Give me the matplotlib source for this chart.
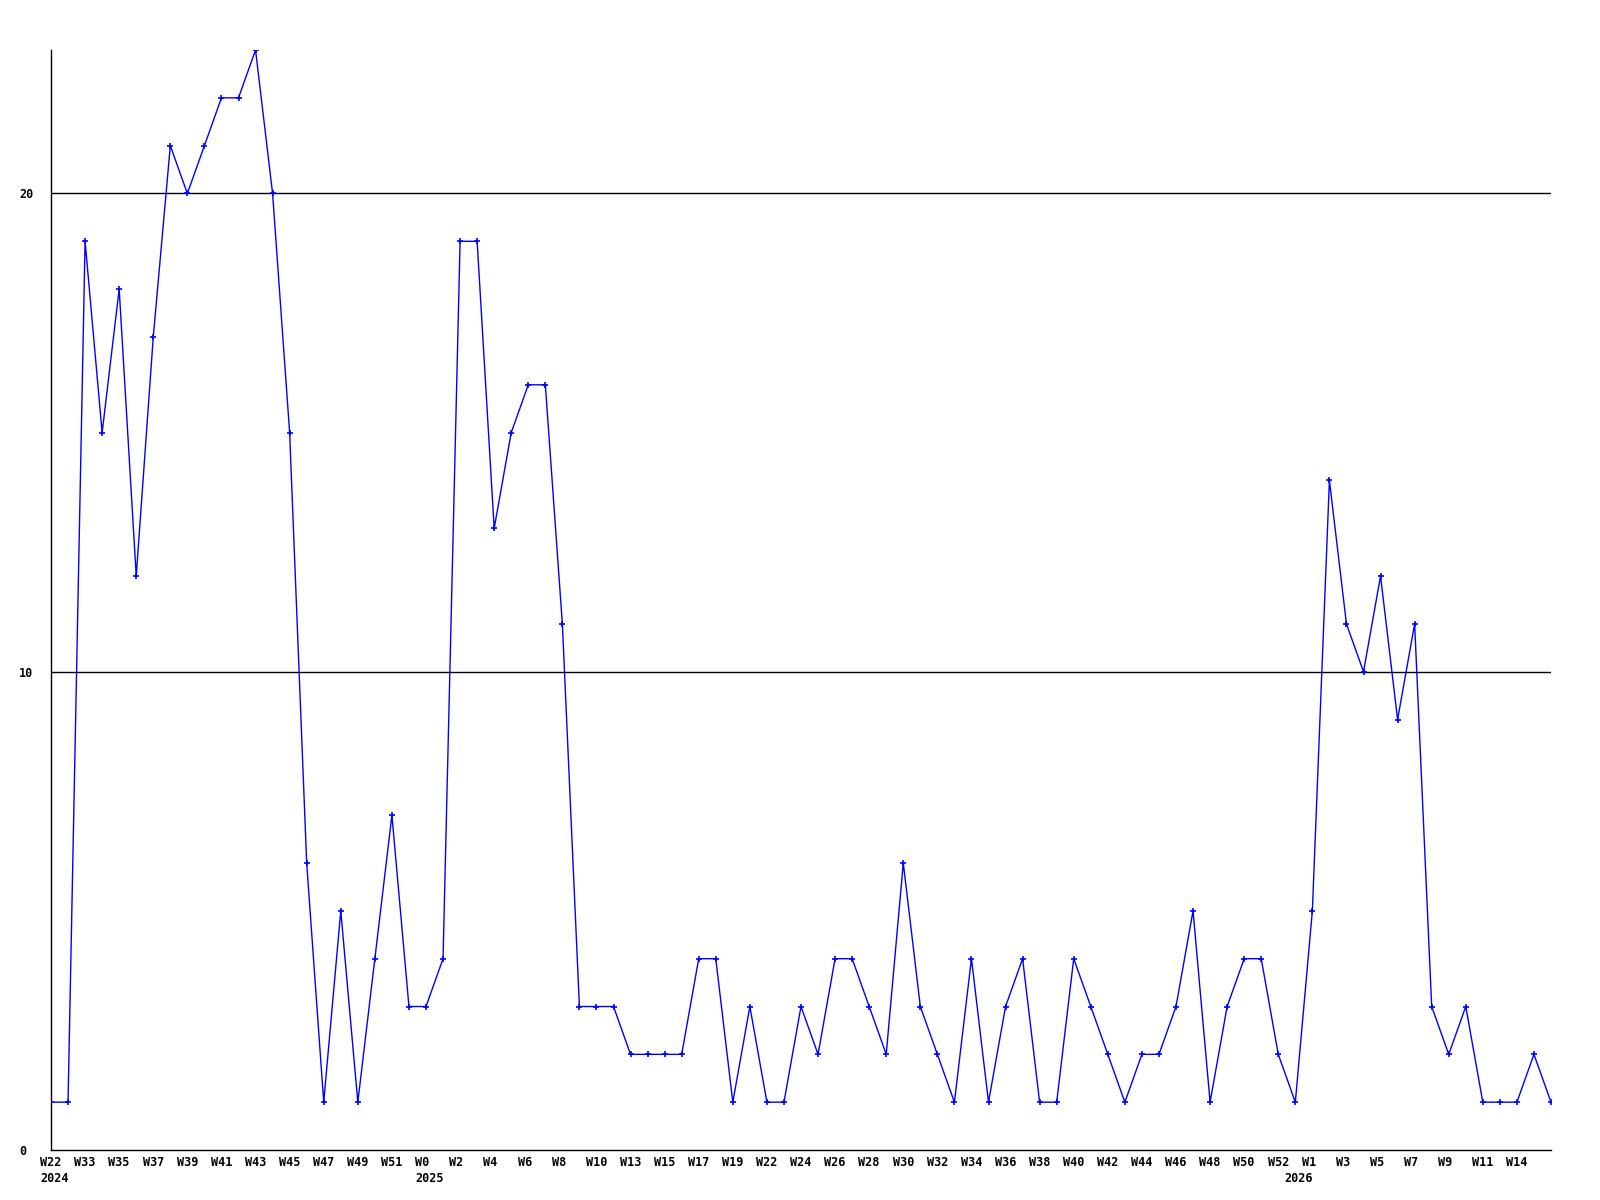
import matplotlib.pyplot as plt

# weekly values, 2024 W22 .. 2026 W15
values = [1, 1, 19, 15, 18, 12, 17, 21, 20, 21, 22, 22, 23, 20, 15, 6, 1, 5, 1, 4,
          7, 3, 3, 4, 19, 19, 13, 15, 16, 16, 11, 3, 3, 3, 2, 2, 2, 2, 4, 4,
          1, 3, 1, 1, 3, 2, 4, 4, 3, 2, 6, 3, 2, 1, 4, 1, 3, 4, 1, 1,
          4, 3, 2, 1, 2, 2, 3, 5, 1, 3, 4, 4, 2, 1, 5, 14, 11, 10, 12, 9,
          11, 3, 2, 3, 1, 1, 1, 2, 1]

week_labels = ["W22", "W33", "W35", "W37", "W39", "W41", "W43", "W45", "W47", "W49",
               "W51", "W0", "W2", "W4", "W6", "W8", "W10", "W13", "W15", "W17",
               "W19", "W22", "W24", "W26", "W28", "W30", "W32", "W34", "W36", "W38",
               "W40", "W42", "W44", "W46", "W48", "W50", "W52", "W1", "W3", "W5",
               "W7", "W9", "W11", "W14"]

# year markers: (point index of first week, label)
years = [(0, "2024"), (22, "2025"), (73, "2026")]

x = list(range(len(values)))
font = dict(fontfamily="DejaVu Sans Mono", fontweight="bold", fontsize=8.5)

fig = plt.figure(figsize=(16, 12), dpi=100)
ax = fig.add_axes([51 / 1600, 50 / 1200, 1500 / 1600, 1100 / 1200])

ax.plot(x, values, color="#0000ff", linewidth=1, marker="+", markersize=4,
        markeredgewidth=1.2)

for y in (10, 20):
    ax.axhline(y, color="black", linewidth=1, zorder=0)

ax.set_xlim(0, len(values) - 1)
ax.set_ylim(0, 23)

# labels are left aligned in a 3-char cell centred on the tick (monospace)
ax.set_xticks(x[::2][:len(week_labels)])
ax.set_xticklabels([w.ljust(3) for w in week_labels], ha="center", **font)

ax.set_yticks([0, 10, 20])
ax.set_yticklabels(["0", "10", "20"], ha="left", **font)
ax.tick_params(axis="x", length=0, pad=4)
ax.tick_params(axis="y", length=0, pad=23)

for idx, yr in years:
    ax.annotate(yr, xy=(idx, 0), xycoords=("data", "axes fraction"),
                xytext=(-7.9, -16), textcoords="offset points",
                ha="left", va="top", **font)

for s in ("top", "right"):
    ax.spines[s].set_visible(False)
ax.spines["left"].set_linewidth(1)
ax.spines["bottom"].set_linewidth(1)

fig.savefig("out.png", dpi=100)
